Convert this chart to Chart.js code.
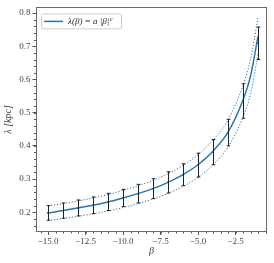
<!DOCTYPE html>
<html>
<head>
<meta charset="utf-8">
<script src="https://cdn.jsdelivr.net/npm/chart.js@4"></script>
<style>
  html, body { margin: 0; padding: 0; background: #fff; }
  #wrap { width: 274px; height: 263px; }
</style>
</head>
<body>
<div id="wrap"><canvas id="myChart" width="274" height="263"></canvas></div>
<script>
// measured points with error bars
const betaValues = [-15, -14, -13, -12, -11, -10, -9, -8, -7, -6, -5, -4, -3, -2, -1];
const lambdaMeasured = [0.198, 0.205, 0.213, 0.221, 0.231, 0.243, 0.256, 0.271, 0.290, 0.313, 0.342, 0.381, 0.440, 0.535, 0.709];
const lambdaError = [0.022, 0.023, 0.024, 0.025, 0.026, 0.026, 0.028, 0.030, 0.032, 0.033, 0.036, 0.038, 0.040, 0.052, 0.049];

// fitted curve and its band
const fitBeta = [-15, -14, -13, -12, -11, -10, -9, -8, -7, -6, -5, -4, -3, -2, -1.5, -1];
const lambdaFit = [0.198, 0.205, 0.213, 0.221, 0.231, 0.243, 0.256, 0.271, 0.290, 0.313, 0.343, 0.384, 0.441, 0.538, 0.610, 0.730];
const lambdaUpper = [0.219, 0.226, 0.234, 0.243, 0.253, 0.266, 0.280, 0.296, 0.316, 0.341, 0.373, 0.417, 0.478, 0.582, 0.660, 0.785];
const lambdaLower = [0.175, 0.181, 0.188, 0.195, 0.204, 0.214, 0.226, 0.240, 0.257, 0.278, 0.305, 0.343, 0.396, 0.487, 0.555, 0.675];

const xTicks = [-15, -12.5, -10, -7.5, -5, -2.5];
const yTicks = [0.2, 0.3, 0.4, 0.5, 0.6, 0.7, 0.8];

const blue = "#1f77b4";
const serif = "'Liberation Serif', 'DejaVu Serif', serif";

const toPts = (xs, ys) => xs.map((x, i) => ({ x: x, y: ys[i] }));

// frame, minor ticks, error bars and legend
const extras = {
  id: "extras",
  beforeDatasetsDraw(chart) {
    const ctx = chart.ctx;
    const xs = chart.scales.x;
    const ys = chart.scales.y;
    const a = chart.chartArea;
    ctx.save();
    ctx.strokeStyle = "#555";
    ctx.lineWidth = 1;
    // minor ticks
    ctx.beginPath();
    for (let v = -15.5; v <= -0.5; v += 0.5) {
      const px = Math.round(xs.getPixelForValue(v)) + 0.5;
      ctx.moveTo(px, a.bottom);
      ctx.lineTo(px, a.bottom + 2);
    }
    for (let v = 0.16; v <= 0.81; v += 0.02) {
      const py = Math.round(ys.getPixelForValue(v)) + 0.5;
      ctx.moveTo(a.left, py);
      ctx.lineTo(a.left - 2, py);
    }
    ctx.stroke();
    ctx.restore();
  },
  afterDatasetsDraw(chart) {
    const ctx = chart.ctx;
    const xs = chart.scales.x;
    const ys = chart.scales.y;
    const a = chart.chartArea;
    ctx.save();
    // error bars
    ctx.strokeStyle = "#222";
    ctx.lineWidth = 1;
    betaValues.forEach((b, i) => {
      const px = Math.round(xs.getPixelForValue(b)) + 0.5;
      const top = ys.getPixelForValue(lambdaMeasured[i] + lambdaError[i]);
      const bot = ys.getPixelForValue(lambdaMeasured[i] - lambdaError[i]);
      ctx.beginPath();
      ctx.moveTo(px, top);
      ctx.lineTo(px, bot);
      ctx.moveTo(px - 1.8, top);
      ctx.lineTo(px + 1.8, top);
      ctx.moveTo(px - 1.8, bot);
      ctx.lineTo(px + 1.8, bot);
      ctx.stroke();
    });
    // frame
    ctx.strokeStyle = "#666";
    ctx.lineWidth = 1;
    ctx.strokeRect(Math.round(a.left) + 0.5, Math.round(a.top) + 0.5,
      Math.round(a.right - a.left) - 1, Math.round(a.bottom - a.top));
    // legend
    const lx = a.left + 5, ly = a.top + 6;
    ctx.fillStyle = "rgba(255,255,255,0.9)";
    ctx.strokeStyle = "#ccc";
    ctx.beginPath();
    ctx.roundRect(lx + 0.5, ly + 0.5, 80, 15, 2);
    ctx.fill();
    ctx.stroke();
    ctx.strokeStyle = blue;
    ctx.lineWidth = 1.5;
    ctx.beginPath();
    ctx.moveTo(lx + 3, ly + 8);
    ctx.lineTo(lx + 22, ly + 8);
    ctx.stroke();
    ctx.fillStyle = "#222";
    ctx.textBaseline = "middle";
    ctx.font = "italic 9px " + serif;
    const txt = "\u03bb(\u03b2) = a |\u03b2|";
    ctx.fillText(txt, lx + 27, ly + 8.5);
    const w = ctx.measureText(txt).width;
    ctx.font = "italic 6.5px " + serif;
    ctx.fillText("c", lx + 27 + w + 0.5, ly + 5.5);
    ctx.restore();
  }
};

const config = {
  type: "scatter",
  data: {
    datasets: [
      {
        label: "upper",
        data: toPts(fitBeta, lambdaUpper),
        showLine: true,
        borderColor: blue,
        borderWidth: 1,
        borderDash: [1.2, 1.8],
        pointRadius: 0,
        cubicInterpolationMode: "monotone",
      },
      {
        label: "lower",
        data: toPts(fitBeta, lambdaLower),
        showLine: true,
        borderColor: blue,
        borderWidth: 1,
        borderDash: [1.2, 1.8],
        pointRadius: 0,
        cubicInterpolationMode: "monotone",
      },
      {
        label: "\u03bb(\u03b2) = a|\u03b2|^c",
        data: toPts(fitBeta, lambdaFit),
        showLine: true,
        borderColor: blue,
        borderWidth: 1.5,
        pointRadius: 0,
        cubicInterpolationMode: "monotone",
      },
      {
        label: "data",
        data: toPts(betaValues, lambdaMeasured),
        pointStyle: "line",
        pointRadius: 1,
        borderColor: "#111",
        borderWidth: 1.2,
        backgroundColor: "#111",
      },
    ],
  },
  options: {
    responsive: false,
    animation: false,
    layout: { padding: { top: 4, right: 7, left: 0, bottom: 0 } },
    plugins: { legend: { display: false }, tooltip: { enabled: false } },
    scales: {
      x: {
        type: "linear",
        min: -15.8,
        max: -0.4,
        afterFit: (s) => { s.height = 31.5; },
        afterBuildTicks: (s) => { s.ticks = xTicks.map((v) => ({ value: v })); },
        border: { display: false },
        grid: { display: true, drawOnChartArea: false, drawTicks: true, tickLength: 3.5, color: "#555" },
        ticks: {
          padding: 1,
          color: "#444",
          font: { family: serif, size: 9 },
          maxRotation: 0,
          callback: (v) => v.toFixed(1).replace("-", "\u2212"),
        },
        title: { display: true, text: "\u03b2", color: "#444", padding: { top: 0, bottom: 6 }, font: { family: serif, size: 10, style: "italic" } },
      },
      y: {
        type: "linear",
        min: 0.142,
        max: 0.817,
        afterFit: (s) => { s.width = 36; },
        afterBuildTicks: (s) => { s.ticks = yTicks.map((v) => ({ value: v })); },
        border: { display: false },
        grid: { display: true, drawOnChartArea: false, drawTicks: true, tickLength: 3.5, color: "#555" },
        ticks: {
          padding: 2,
          color: "#444",
          font: { family: serif, size: 9 },
          callback: (v) => v.toFixed(1),
        },
        title: { display: true, text: "\u03bb [kpc]", color: "#444", padding: { top: 2, bottom: 0 }, font: { family: serif, size: 10, style: "italic" } },
      },
    },
  },
  plugins: [extras],
};

const myChart = new Chart(document.getElementById("myChart"), config);
</script>
</body>
</html>
